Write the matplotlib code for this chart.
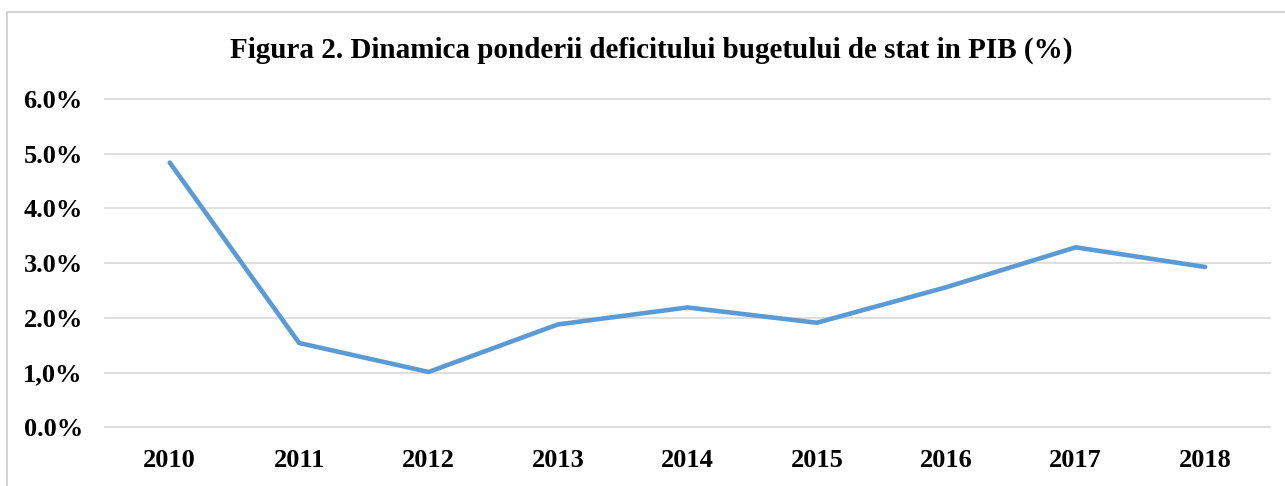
#!/usr/bin/env python3

import matplotlib.pyplot as plt
from matplotlib.patches import Rectangle
from matplotlib.ticker import FuncFormatter

years = ["2010", "2011", "2012", "2013", "2014", "2015", "2016", "2017", "2018"]
deficit = [4.84, 1.54, 1.01, 1.88, 2.19, 1.91, 2.56, 3.29, 2.93]
title = "Figura 2. Dinamica ponderii deficitului bugetului de stat in PIB (%)"


def pct(v, _pos):
    s = f"{v:.1f}%"
    # the source uses a comma on the 1% tick
    return s.replace(".", ",") if abs(v - 1.0) < 1e-9 else s


def main():
    plt.rcParams["font.family"] = ["Liberation Serif", "DejaVu Serif"]

    fig = plt.figure(figsize=(12.85, 4.86), dpi=100)
    ax = fig.add_axes([0.0817, 0.121, 0.9065, 0.675])

    x = range(len(years))
    ax.plot(x, deficit, color="#5B9BD5", linewidth=3.3, solid_capstyle="round",
            solid_joinstyle="round", zorder=3)

    ax.set_xlim(-0.5, len(years) - 0.5)
    ax.set_ylim(0, 6)
    ax.set_yticks([0, 1, 2, 3, 4, 5, 6])
    ax.yaxis.set_major_formatter(FuncFormatter(pct))
    ax.set_xticks(list(x))
    ax.set_xticklabels(years)

    ax.grid(axis="y", color="#D9D9D9", linewidth=1.2)
    for gl in ax.get_ygridlines():
        gl.set_clip_on(False)
    ax.set_axisbelow(True)
    for side in ("top", "right", "left", "bottom"):
        ax.spines[side].set_visible(False)
    ax.tick_params(length=0)
    ax.tick_params(axis="y", pad=16, labelsize=19)
    ax.tick_params(axis="x", pad=16, labelsize=19)
    for lab in ax.get_xticklabels() + ax.get_yticklabels():
        lab.set_fontweight("bold")

    fig.text(0.507, 0.897, title, ha="center", va="center",
             fontsize=21, fontweight="bold")

    # light frame around the chart area
    fig.patches.append(Rectangle((7 / 1285, -0.05), 1.1, 1 - 12 / 486 + 0.05,
                                 transform=fig.transFigure, fill=False,
                                 edgecolor="#D4D4D4", linewidth=1.5))

    fig.savefig("out.png", dpi=100, facecolor="white")


if __name__ == "__main__":
    main()
